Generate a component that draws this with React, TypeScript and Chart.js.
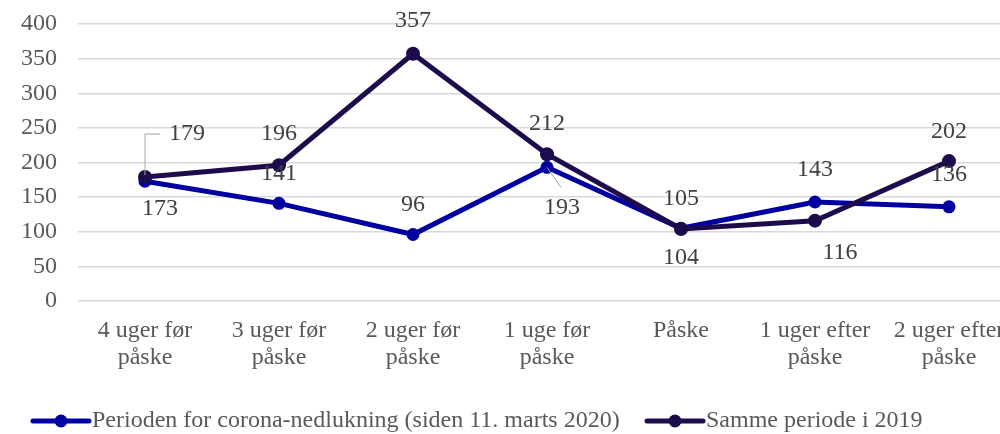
import React, { useEffect, useRef } from "react";
import { Chart, registerables } from "chart.js";

Chart.register(...registerables);

const categories: string[][] = [
  ["4 uger før", "påske"],
  ["3 uger før", "påske"],
  ["2 uger før", "påske"],
  ["1 uge før", "påske"],
  ["Påske"],
  ["1 uger efter", "påske"],
  ["2 uger efter", "påske"],
];
const series2020 = [173, 141, 96, 193, 105, 143, 136];
const series2019 = [179, 196, 357, 212, 104, 116, 202];
const seriesNames = [
  "Perioden for corona-nedlukning (siden 11. marts 2020)",
  "Samme periode i 2019",
];
const yMin = 0;
const yMax = 400;
const yStep = 50;

// style: label placement offsets (px) relative to each point
const labelOffsets2020 = [[15, 28], [0, -30], [0, -30], [15, 40], [0, -30], [0, -32], [0, -32]];
const labelOffsets2019 = [[42, -43], [0, -32], [0, -33], [0, -30], [0, 29], [25, 32], [0, -29]];

const BLUE = "#0000a0";
const DARK = "#1e0b4c";
const FONT = "'Liberation Serif', 'Times New Roman', serif";

const labelsPlugin = {
  id: "customLabels",
  afterDatasetsDraw(chart: any) {
    const ctx = chart.ctx;
    ctx.save();
    ctx.font = `24px ${FONT}`;
    ctx.fillStyle = "#404040";
    ctx.textAlign = "center";
    ctx.textBaseline = "middle";
    const sets = [
      { meta: chart.getDatasetMeta(0), vals: series2020, offs: labelOffsets2020 },
      { meta: chart.getDatasetMeta(1), vals: series2019, offs: labelOffsets2019 },
    ];
    // leader lines
    ctx.strokeStyle = "#a6a6a6";
    ctx.lineWidth = 1;
    {
      const p = sets[1].meta.data[0];
      ctx.beginPath();
      ctx.moveTo(p.x, p.y - 2);
      ctx.lineTo(p.x, p.y + labelOffsets2019[0][1]);
      ctx.lineTo(p.x + 15, p.y + labelOffsets2019[0][1]);
      ctx.stroke();
      const q = sets[0].meta.data[3];
      ctx.beginPath();
      ctx.moveTo(q.x, q.y);
      ctx.lineTo(q.x + 14, q.y + 20);
      ctx.stroke();
    }
    sets.forEach((s) => {
      s.vals.forEach((v, i) => {
        const el = s.meta.data[i];
        ctx.fillText(String(v), el.x + s.offs[i][0], el.y + s.offs[i][1]);
      });
    });
    ctx.restore();
  },
  afterDraw(chart: any) {
    const ctx = chart.ctx;
    ctx.save();
    const y = 421;
    const items = [
      { x: 33, color: BLUE, r: 6.5, text: seriesNames[0] },
      { x: 647, color: DARK, r: 6.5, text: seriesNames[1] },
    ];
    items.forEach((it) => {
      ctx.strokeStyle = it.color;
      ctx.lineWidth = 5;
      ctx.lineCap = "round";
      ctx.beginPath();
      ctx.moveTo(it.x, y);
      ctx.lineTo(it.x + 56, y);
      ctx.stroke();
      ctx.fillStyle = it.color;
      ctx.beginPath();
      ctx.arc(it.x + 28, y, it.r, 0, Math.PI * 2);
      ctx.fill();
      ctx.fillStyle = "#595959";
      ctx.font = `24px ${FONT}`;
      ctx.textAlign = "left";
      ctx.textBaseline = "middle";
      ctx.fillText(it.text, it.x + 59, y);
    });
    ctx.restore();
  },
};

export default function App() {
  const ref = useRef<HTMLCanvasElement | null>(null);
  useEffect(() => {
    if (!ref.current) return;
    const chart = new Chart(ref.current, {
      type: "line",
      data: {
        labels: categories,
        datasets: [
          {
            label: seriesNames[0],
            data: series2020,
            borderColor: BLUE,
            backgroundColor: BLUE,
            borderWidth: 5,
            pointRadius: 6.5,
            pointBackgroundColor: BLUE,
            pointBorderColor: BLUE,
            pointBorderWidth: 0,
            tension: 0,
            order: 1,
          },
          {
            label: seriesNames[1],
            data: series2019,
            borderColor: DARK,
            backgroundColor: DARK,
            borderWidth: 5,
            pointRadius: 7,
            pointBackgroundColor: DARK,
            pointBorderColor: DARK,
            pointBorderWidth: 0,
            tension: 0,
            order: 0,
          },
        ],
      },
      options: {
        animation: false,
        responsive: false,
        maintainAspectRatio: false,
        layout: { padding: { top: 24, right: 24, bottom: 0, left: 0 }, autoPadding: false },
        plugins: {
          legend: { display: false },
          tooltip: { enabled: false },
          title: { display: false },
        },
        scales: {
          x: {
            offset: true,
            grid: { display: false, drawTicks: false },
            border: { display: false },
            ticks: {
              color: "#595959",
              font: { family: FONT, size: 24, lineHeight: 1.125 },
              padding: 16,
              maxRotation: 0,
              autoSkip: false,
            },
            afterFit: (s: any) => {
              s.height = 133;
              s.paddingLeft = 0;
              s.paddingRight = 0;
            },
          },
          y: {
            min: yMin,
            max: yMax,
            grid: { color: "#d9d9d9", lineWidth: 1.5, drawTicks: false },
            border: { display: false },
            ticks: {
              stepSize: yStep,
              color: "#595959",
              font: { family: FONT, size: 24 },
              padding: 21,
            },
            afterFit: (s: any) => {
              s.width = 78;
              s.paddingTop = 0;
              s.paddingBottom = 0;
            },
          },
        },
      },
      plugins: [labelsPlugin],
    });
    return () => chart.destroy();
  }, []);
  return (
    <div
      style={{
        position: "fixed",
        left: 0,
        top: 0,
        width: 1000,
        height: 434,
        overflow: "hidden",
        background: "#fff",
      }}
    >
      <canvas ref={ref} width={1040} height={434} style={{ width: 1040, height: 434, display: "block" }} />
    </div>
  );
}
